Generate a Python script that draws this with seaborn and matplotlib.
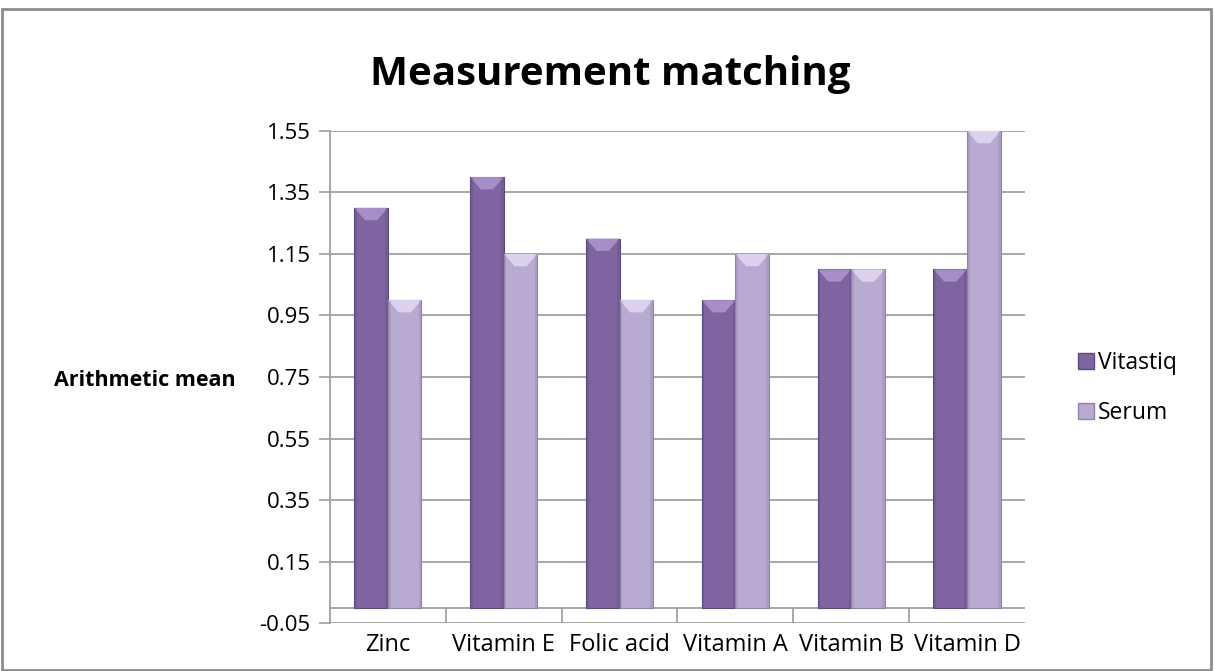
import numpy as np
import pandas as pd
import matplotlib
matplotlib.use("Agg")
import matplotlib.pyplot as plt
from matplotlib.patches import Rectangle, Polygon
import seaborn as sns

categories = ["Zinc", "Vitamin E", "Folic acid", "Vitamin A", "Vitamin B", "Vitamin D"]
vitastiq = [1.30, 1.40, 1.20, 1.00, 1.10, 1.10]
serum = [1.00, 1.15, 1.00, 1.15, 1.10, 1.55]
series_names = ["Vitastiq", "Serum"]
yticks = [-0.05, 0.15, 0.35, 0.55, 0.75, 0.95, 1.15, 1.35, 1.55]

colors = {"Vitastiq": "#8064A2", "Serum": "#B8AAD1"}
edge = {"Vitastiq": "#5E4A7A", "Serum": "#8F83A6"}
top_light = {"Vitastiq": "#A68FC6", "Serum": "#DCD2EE"}

df = pd.DataFrame({
    "category": categories * 2,
    "value": vitastiq + serum,
    "series": [series_names[0]] * len(categories) + [series_names[1]] * len(categories),
})

sns.set_theme(style="white")
plt.rcParams["font.family"] = ["Open Sans", "DejaVu Sans"]
plt.rcParams["text.color"] = "black"
plt.rcParams["xtick.color"] = "black"
plt.rcParams["ytick.color"] = "black"

fig = plt.figure(figsize=(12.15, 6.71), dpi=100)
ax = fig.add_axes([0.2716, 0.0715, 0.5720, 0.7333])

sns.barplot(data=df, x="category", y="value", hue="series", order=categories,
            hue_order=series_names, palette=colors, width=0.58, gap=0,
            ax=ax, legend=False, saturation=1, linewidth=0, errorbar=None)

ax.set_xlim(-0.5, len(categories) - 0.5)
ax.set_ylim(yticks[0], yticks[-1])
ax.set_yticks(yticks)
ax.set_yticklabels([f"{t:.2f}" for t in yticks], fontsize=16)
ax.tick_params(axis="y", length=8, width=1.2, color="#A0A0A0", labelcolor="black", pad=6, left=True)
ax.tick_params(axis="x", length=0, labelsize=17, labelcolor="black", pad=7)
ax.set_xlabel("")
ax.set_ylabel("")
ax.grid(axis="y", color="#A0A0A0", linewidth=1.3, zorder=0)
ax.set_axisbelow(True)
for s in ["top", "right", "bottom"]:
    ax.spines[s].set_visible(False)
ax.spines["left"].set_color("#A0A0A0")
ax.spines["left"].set_linewidth(1.3)

ax.axhline(0, color="#A0A0A0", linewidth=1.3, zorder=1)
ax.vlines(np.arange(0.5, len(categories) - 0.5, 1), yticks[0], 0,
          color="#A0A0A0", linewidth=1.3, zorder=1)

# bevel styling derived from the drawn bars
for i, bar in enumerate(ax.patches):
    name = series_names[i // len(categories)]
    x0, w, h = bar.get_x(), bar.get_width(), bar.get_height()
    bar.set_edgecolor(edge[name])
    bar.set_linewidth(0.8)
    bar.set_zorder(3)
    bh = 0.04
    tri = Polygon([[x0, h], [x0 + w, h], [x0 + w * 0.68, h - bh], [x0 + w * 0.32, h - bh]],
                  closed=True, facecolor=top_light[name], edgecolor="none", zorder=4)
    ax.add_patch(tri)
    side = Rectangle((x0, 0), w * 0.08, h, facecolor=edge[name], alpha=0.3,
                     edgecolor="none", zorder=4)
    ax.add_patch(side)
    side2 = Rectangle((x0 + w * 0.92, 0), w * 0.08, h, facecolor=edge[name], alpha=0.3,
                      edgecolor="none", zorder=4)
    ax.add_patch(side2)

fig.suptitle("Measurement matching", x=0.502, y=1 - 75 / 671, fontsize=29,
             fontweight="bold", va="center", color="black")
fig.text(0.194, 1 - 381 / 671, "Arithmetic mean", ha="right", va="center",
         fontsize=15.5, fontweight="bold", color="black")

handles = [Rectangle((0, 0), 1, 1, facecolor=colors[n], edgecolor=edge[n]) for n in series_names]
fig.legend(handles, series_names, loc="center left", bbox_to_anchor=(0.870, 1 - 388 / 671),
           frameon=False, fontsize=16.5, handlelength=0.7, handleheight=0.7,
           handletextpad=0.17, labelspacing=1.1)

fig.patches.append(Rectangle((0.002, 0.001), 0.995, 0.985, transform=fig.transFigure,
                             fill=False, edgecolor="#8C8C8C", linewidth=2))

fig.savefig("out.png", dpi=100)
